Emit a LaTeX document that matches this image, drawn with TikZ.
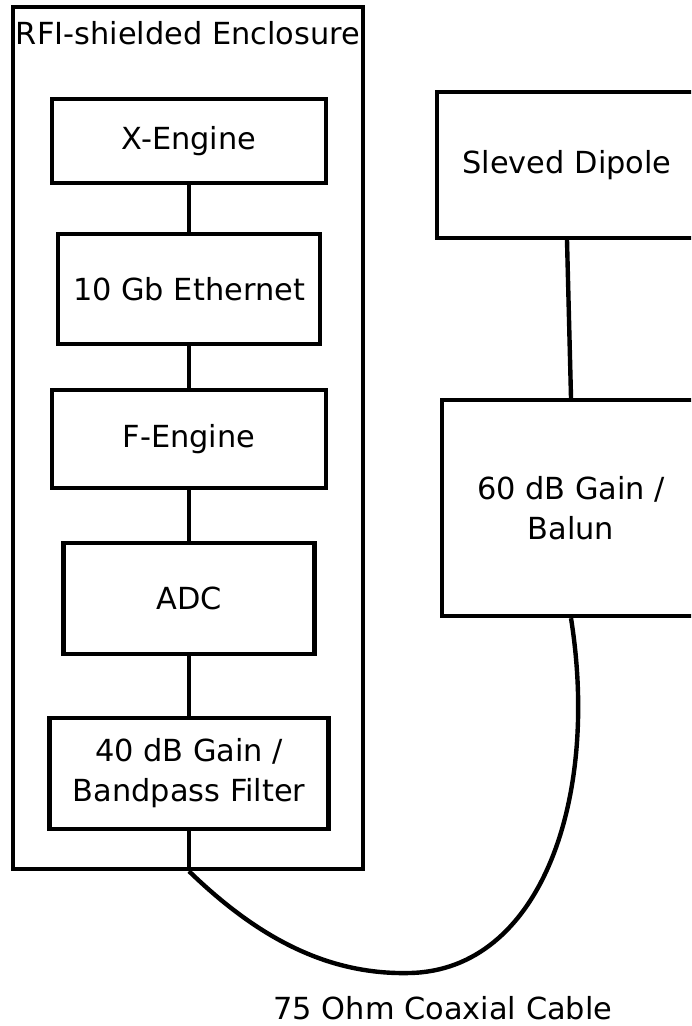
\documentclass[tikz,border=0pt]{standalone}
\usepackage{fontspec}
\setmainfont{DejaVu Sans}
\begin{document}
\begin{tikzpicture}[x=0.5pt,y=-0.5pt,
  blk/.style={draw, line width=2.2pt, rectangle, inner sep=0pt, align=center,
    font=\fontsize{15.2}{20}\selectfont},
  txt/.style={inner sep=0pt, align=center, font=\fontsize{15.2}{20}\selectfont},
  wire/.style={line width=2.2pt}]
\clip (0,0) rectangle (691,1026);
\useasboundingbox (0,0) rectangle (691,1026);
\node[blk, minimum width=175pt, minimum height=431pt] (encl) at (188,438) {};
\node[txt] (enclab) at (188,33) {RFI-shielded Enclosure};
\node[blk, minimum width=137pt, minimum height=42pt] (xeng) at (189,141) {\raisebox{-1pt}{X-Engine}};
\node[blk, minimum width=131pt, minimum height=55pt] (eth) at (189,289) {10 Gb Ethernet};
\node[blk, minimum width=137pt, minimum height=49pt] (feng) at (189,439) {\raisebox{-1pt}{F-Engine}};
\node[blk, minimum width=125.5pt, minimum height=55.5pt] (adc) at (189,598.5) {ADC};
\node[blk, minimum width=139.5pt, minimum height=55.5pt] (filt) at (189,773.5) {40 dB Gain /\\Bandpass Filter};
\node[blk, minimum width=130pt, minimum height=73pt] (dip) at (567,165) {Sleved Dipole};
\node[blk, minimum width=129pt, minimum height=108pt] (bal) at (571,508) {60 dB Gain /\\Balun};
\node[txt] (cab) at (443,1008) {75 Ohm Coaxial Cable};
\coordinate (exit) at (filt.south |- encl.south);
\draw[wire] (xeng) -- (eth);
\draw[wire] (eth) -- (feng);
\draw[wire] (feng) -- (adc);
\draw[wire] (adc) -- (filt);
\draw[wire] (filt.south) -- (exit);
\draw[wire] (dip.south) -- (bal.north);
\draw[wire] (exit) .. controls (260,940) and (330,975) .. (410,973)
  .. controls (540,970) and (600,800) .. (bal.south);
\end{tikzpicture}
\end{document}
